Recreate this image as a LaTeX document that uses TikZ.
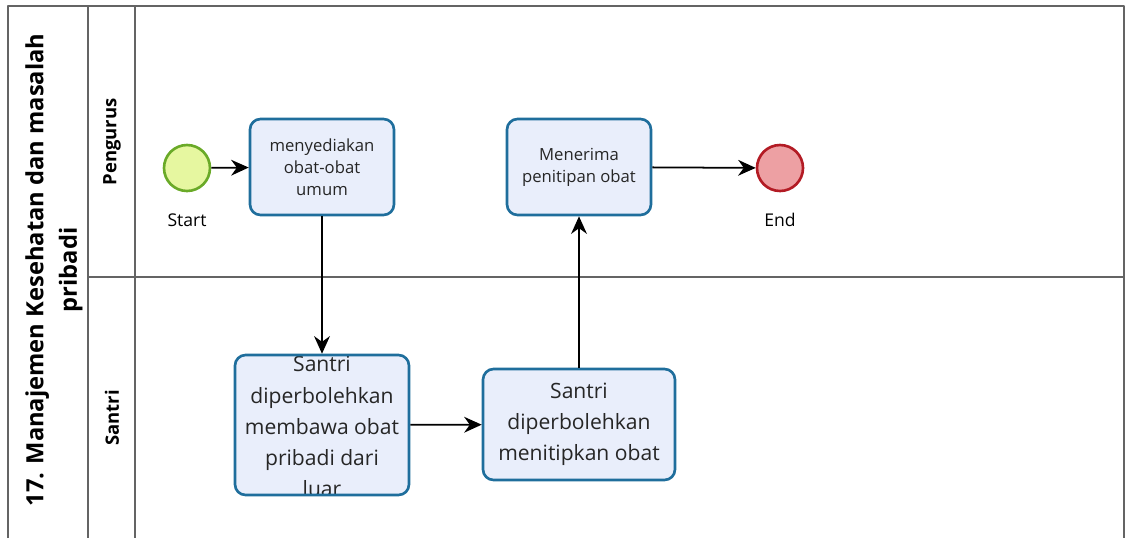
\documentclass[tikz,border=0pt]{standalone}
\usepackage{fontspec}
\setmainfont{Open Sans}
\usetikzlibrary{arrows.meta, positioning}
\definecolor{taskblue}{RGB}{31,110,156}
\definecolor{taskfill}{RGB}{233,238,251}
\definecolor{startgreen}{RGB}{106,170,40}
\definecolor{startfill}{RGB}{230,247,160}
\definecolor{endred}{RGB}{179,27,36}
\definecolor{endfill}{RGB}{237,160,163}
\definecolor{lanegray}{RGB}{100,100,100}

\begin{document}
\begin{tikzpicture}[x=0.02cm, y=-0.02cm, line join=round, >={Stealth[length=10pt,width=9pt]},
	lane/.style={draw=lanegray, line width=0.8pt},
	lanelabel/.style={rotate=90, font=\bfseries\fontsize{10.5}{13}\selectfont},
	task/.style={draw=taskblue, line width=1.5pt, fill=taskfill, rounded corners=6pt, align=center, text=black!85},
	event/.style={circle, line width=1.5pt, minimum size=0.92cm},
	flow/.style={->, line width=1pt}]
	\useasboundingbox (0,0) rectangle (1131,538);

	% pool and lanes
	\draw[lane] (8,538) -- (8,6) -- (1124,6) -- (1124,538);
	\draw[lane] (88,6) -- (88,538);
	\draw[lane] (135,6) -- (135,538);
	\draw[lane] (88,277) -- (1124,277);
	\node[rotate=90, align=center, font=\bfseries\fontsize{13.5}{19}\selectfont] (title) at (54,270) {17. Manajemen Kesehatan dan masalah\\pribadi};
	\node[lanelabel] (pengurus) at (112,142) {Pengurus};
	\node[lanelabel] (santri) at (112,418) {Santri};

	% events
	\node[event, draw=startgreen, fill=startfill] (start) at (187,168) {};
	\node[font=\fontsize{10}{12}\selectfont] (startlbl) at (187,220) {Start};
	\node[event, draw=endred, fill=endfill] (end) at (780,168) {};
	\node[font=\fontsize{10}{12}\selectfont] (endlbl) at (780,220) {End};

	% tasks
	\node[task, minimum width=2.88cm, minimum height=1.92cm, font=\fontsize{9.5}{12.5}\selectfont] (sedia) at (322,167) {menyediakan\\obat-obat\\umum};
	\node[task, minimum width=2.88cm, minimum height=1.92cm, font=\fontsize{9.5}{12.5}\selectfont] (terima) at (579,167) {Menerima\\penitipan obat};
	\node[task, minimum width=3.48cm, minimum height=2.8cm,
		path picture={\node[align=center, text=black!85, font=\fontsize{12}{17.8}\selectfont] at ([yshift=-1pt]path picture bounding box.center) {Santri\\diperbolehkan\\membawa obat\\pribadi dari\\luar};}] (bawa) at (322,425) {};
	\node[task, minimum width=3.84cm, minimum height=2.22cm, font=\fontsize{12}{17.5}\selectfont] (titip) at (579,424.5) {Santri\\diperbolehkan\\menitipkan obat};

	% sequence flows
	\draw[flow] (start) -- (sedia);
	\draw[flow] (sedia) -- (bawa);
	\draw[flow] (bawa) -- (titip);
	\draw[flow] (titip) -- (terima);
	\draw[flow] (terima) -- (end);
\end{tikzpicture}
\end{document}
